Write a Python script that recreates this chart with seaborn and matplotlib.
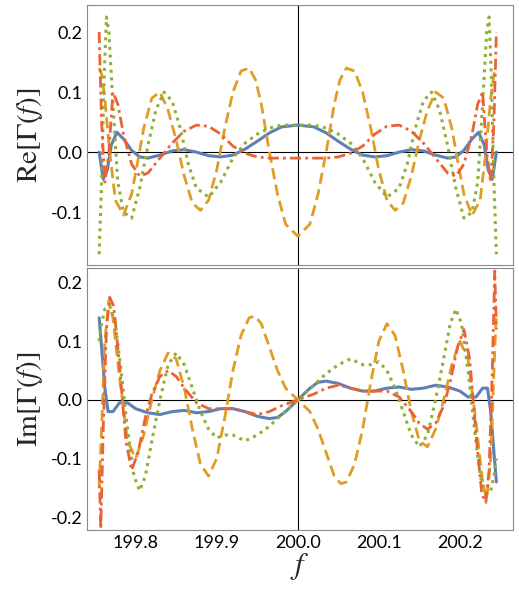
import numpy as np
import matplotlib
matplotlib.use("Agg")
import matplotlib.pyplot as plt
import seaborn as sns
import pandas as pd

sns.set_theme(style="white")
plt.rcParams['font.family'] = ['Lato', 'DejaVu Sans']
plt.rcParams['mathtext.fontset'] = 'stix'

re_blue_x = [199.755,199.760,199.765,199.770,199.777,199.785,199.795,199.805,199.815,199.83,199.845,199.86,199.875,199.89,199.905,199.92,199.935,199.95,199.965,199.98,200.0,
             200.02,200.035,200.05,200.065,200.08,200.095,200.11,200.125,200.14,200.155,200.17,200.185,200.195,200.205,200.215,200.223,200.230,200.235,200.240,200.245]
re_blue_y = [0.0,-0.045,-0.03,0.012,0.033,0.022,0.003,-0.008,-0.01,-0.005,0.002,0.004,0.0,-0.006,-0.008,-0.005,0.005,0.018,0.032,0.042,0.045,
             0.042,0.032,0.018,0.005,-0.005,-0.008,-0.006,0.0,0.004,0.002,-0.005,-0.01,-0.008,0.003,0.022,0.033,0.012,-0.03,-0.045,0.0]

re_orange_x = [199.755,199.758,199.762,199.768,199.775,199.785,199.795,199.802,199.81,199.82,199.83,199.84,199.85,199.86,199.87,199.88,199.89,199.90,199.91,199.92,199.93,199.94,199.948,199.955,199.965,199.975,199.985,200.0,
               200.015,200.025,200.035,200.045,200.052,200.06,200.07,200.08,200.09,200.10,200.11,200.12,200.13,200.14,200.15,200.16,200.17,200.18,200.19,200.198,200.205,200.215,200.225,200.232,200.238,200.242,200.245]
re_orange_y = [0.14,0.13,0.09,0.0,-0.08,-0.105,-0.07,-0.02,0.04,0.09,0.10,0.07,0.02,-0.04,-0.085,-0.097,-0.08,-0.03,0.04,0.10,0.135,0.14,0.12,0.08,0.0,-0.07,-0.12,-0.14,
               -0.12,-0.07,0.0,0.08,0.12,0.14,0.135,0.10,0.04,-0.03,-0.08,-0.097,-0.085,-0.04,0.02,0.07,0.10,0.09,0.04,-0.02,-0.07,-0.105,-0.08,0.0,0.09,0.13,0.14]

re_green_x = [199.755,199.758,199.761,199.764,199.767,199.772,199.778,199.785,199.795,199.805,199.815,199.825,199.835,199.845,199.855,199.865,199.875,199.89,199.905,199.92,199.935,199.95,199.965,199.98,200.0,
              200.02,200.035,200.05,200.065,200.08,200.095,200.11,200.125,200.135,200.145,200.155,200.165,200.175,200.185,200.195,200.205,200.215,200.222,200.228,200.233,200.236,200.239,200.242,200.245]
re_green_y = [-0.17,-0.05,0.12,0.225,0.2,0.08,-0.05,-0.1,-0.11,-0.06,0.01,0.07,0.10,0.085,0.04,-0.02,-0.06,-0.075,-0.05,-0.01,0.015,0.03,0.04,0.045,0.045,
              0.045,0.04,0.03,0.015,-0.01,-0.05,-0.075,-0.06,-0.02,0.04,0.085,0.10,0.07,0.01,-0.06,-0.11,-0.1,-0.05,0.08,0.2,0.225,0.12,-0.05,-0.17]

re_red_x = [199.755,199.758,199.762,199.767,199.772,199.778,199.785,199.795,199.805,199.815,199.83,199.845,199.86,199.875,199.89,199.905,199.92,199.935,199.95,199.965,199.98,200.0,
            200.02,200.035,200.05,200.065,200.08,200.095,200.11,200.125,200.14,200.155,200.17,200.185,200.195,200.205,200.215,200.222,200.228,200.233,200.238,200.242,200.245]
re_red_y = [0.2,0.05,-0.05,0.0,0.1,0.08,0.03,-0.02,-0.04,-0.035,-0.01,0.015,0.035,0.045,0.043,0.03,0.01,-0.002,-0.008,-0.01,-0.01,-0.01,
            -0.01,-0.01,-0.008,-0.002,0.01,0.03,0.043,0.045,0.035,0.015,-0.01,-0.035,-0.04,-0.02,0.03,0.08,0.1,0.0,-0.05,0.05,0.2]

im_blue_x = [199.755,199.758,199.762,199.766,199.772,199.78,199.79,199.80,199.815,199.83,199.845,199.86,199.875,199.89,199.905,199.92,199.935,199.95,199.965,199.975,199.985,200.0,
             200.015,200.025,200.035,200.05,200.065,200.08,200.095,200.11,200.125,200.14,200.155,200.17,200.185,200.20,200.21,200.22,200.228,200.234,200.238,200.242,200.245]
im_blue_y = [0.14,0.09,0.02,-0.02,-0.02,-0.005,-0.005,-0.015,-0.022,-0.025,-0.02,-0.018,-0.022,-0.02,-0.015,-0.015,-0.02,-0.028,-0.032,-0.03,-0.02,0.0,
             0.02,0.03,0.032,0.028,0.02,0.015,0.015,0.02,0.022,0.018,0.02,0.025,0.022,0.015,0.005,0.005,0.02,0.02,-0.02,-0.09,-0.14]

im_orange_x = [199.755,199.758,199.762,199.767,199.772,199.78,199.79,199.80,199.81,199.82,199.83,199.84,199.85,199.86,199.87,199.88,199.89,199.90,199.91,199.92,199.93,199.94,199.947,199.955,199.965,199.975,199.985,200.0,
               200.015,200.025,200.035,200.045,200.053,200.06,200.07,200.08,200.09,200.10,200.11,200.12,200.13,200.14,200.15,200.16,200.17,200.18,200.19,200.20,200.21,200.22,200.228,200.233,200.238,200.242,200.245]
im_orange_y = [-0.15,-0.05,0.1,0.17,0.14,0.04,-0.07,-0.1,-0.06,0.0,0.05,0.08,0.07,0.02,-0.05,-0.11,-0.13,-0.1,-0.03,0.05,0.11,0.14,0.143,0.13,0.09,0.05,0.02,0.0,
               -0.02,-0.05,-0.09,-0.13,-0.143,-0.14,-0.11,-0.05,0.03,0.1,0.13,0.11,0.05,-0.02,-0.07,-0.08,-0.05,0.0,0.06,0.1,0.07,-0.04,-0.14,-0.17,-0.1,0.05,0.15]

im_green_x = [199.755,199.758,199.762,199.768,199.775,199.782,199.79,199.798,199.805,199.812,199.82,199.83,199.84,199.85,199.86,199.87,199.88,199.89,199.90,199.91,199.92,199.935,199.95,199.965,199.98,200.0,
              200.02,200.035,200.05,200.065,200.08,200.09,200.10,200.11,200.12,200.13,200.14,200.15,200.16,200.17,200.18,200.188,200.195,200.202,200.21,200.218,200.225,200.232,200.238,200.242,200.245]
im_green_y = [0.1,0.13,0.155,0.16,0.13,0.05,-0.05,-0.13,-0.155,-0.13,-0.07,0.0,0.06,0.08,0.06,0.02,-0.02,-0.05,-0.065,-0.06,-0.06,-0.07,-0.06,-0.045,-0.025,0.0,
              0.025,0.045,0.06,0.07,0.06,0.06,0.065,0.05,0.02,-0.02,-0.06,-0.08,-0.06,0.0,0.07,0.13,0.155,0.13,0.05,-0.05,-0.13,-0.16,-0.155,-0.13,-0.1]

im_red_x = [199.755,199.757,199.760,199.764,199.768,199.773,199.78,199.788,199.795,199.803,199.812,199.82,199.83,199.84,199.85,199.86,199.875,199.89,199.905,199.92,199.935,199.95,199.965,199.98,200.0,
            200.02,200.035,200.05,200.065,200.08,200.095,200.11,200.125,200.14,200.15,200.16,200.17,200.18,200.188,200.197,200.205,200.212,200.22,200.227,200.232,200.236,200.240,200.243,200.245]
im_red_y = [-0.12,-0.22,-0.05,0.12,0.175,0.16,0.06,-0.07,-0.12,-0.09,-0.03,0.01,0.04,0.05,0.04,0.02,-0.005,-0.015,-0.015,-0.015,-0.02,-0.025,-0.02,-0.01,0.0,
            0.01,0.02,0.025,0.02,0.015,0.015,0.015,0.005,-0.02,-0.04,-0.05,-0.04,-0.01,0.03,0.09,0.12,0.07,-0.06,-0.16,-0.175,-0.12,0.05,0.22,0.12]

BLUE, ORANGE, GREEN, RED = "#5E81B5", "#E19C24", "#8FB032", "#EB6235"
styles = [(BLUE, "-", 2.2), (ORANGE, (0, (4, 2)), 2.0), (GREEN, (0, (1, 1.5)), 2.2), (RED, (0, (4, 1.5, 1, 1.5)), 2.0)]

fig = plt.figure(figsize=(5.19, 6.0), dpi=100)
ax1 = fig.add_axes([87/519, 1 - 265/600, 426/519, 260/600])
ax2 = fig.add_axes([87/519, 1 - 530/600, 426/519, 262/600])

def draw(ax, series):
    ax.axhline(0, color="black", lw=0.8, zorder=1)
    ax.axvline(200.0, color="black", lw=0.8, zorder=1)
    for (x, y), (c, ls, lw) in zip(series, styles):
        df = pd.DataFrame({"f": x, "v": y})
        sns.lineplot(data=df, x="f", y="v", ax=ax, color=c, lw=lw, linestyle=ls, sort=False, estimator=None)
    ax.set_xlim(199.74, 200.2655)
    ax.set_xticks([199.8, 199.9, 200.0, 200.1, 200.2])
    ax.set_xticks(np.arange(199.75, 200.26, 0.01), minor=True)
    ax.tick_params(axis="both", which="both", direction="in", labelsize=13, colors="black")
    ax.tick_params(which="major", length=5)
    ax.tick_params(which="minor", length=2.5)
    for s in ax.spines.values():
        s.set_color("#888888"); s.set_linewidth(0.8)
    ax.set_xlabel("")

draw(ax1, [(re_blue_x, re_blue_y), (re_orange_x, re_orange_y), (re_green_x, re_green_y), (re_red_x, re_red_y)])
draw(ax2, [(im_blue_x, im_blue_y), (im_orange_x, im_orange_y), (im_green_x, im_green_y), (im_red_x, im_red_y)])

ax1.set_ylim(-0.188, 0.245)
ax1.set_yticks([-0.1, 0.0, 0.1, 0.2])
ax1.set_yticks(np.arange(-0.18, 0.245, 0.02), minor=True)
ax1.set_yticklabels(["-0.1", "0.0", "0.1", "0.2"])
ax1.tick_params(axis="x", labelbottom=False)
ax2.set_ylim(-0.222, 0.225)
ax2.set_yticks([-0.2, -0.1, 0.0, 0.1, 0.2])
ax2.set_yticks(np.arange(-0.22, 0.225, 0.02), minor=True)
ax2.set_yticklabels(["-0.2", "-0.1", "0.0", "0.1", "0.2"])
ax2.set_xticklabels(["199.8", "199.9", "200.0", "200.1", "200.2"])

ax1.set_ylabel(r"$\mathrm{Re}[\Gamma(f)]$", fontsize=21, labelpad=4)
ax2.set_ylabel(r"$\mathrm{Im}[\Gamma(f)]$", fontsize=21, labelpad=4)
ax2.set_xlabel(r"$f$", fontsize=22, labelpad=0)
fig.savefig("out.png", dpi=100)
